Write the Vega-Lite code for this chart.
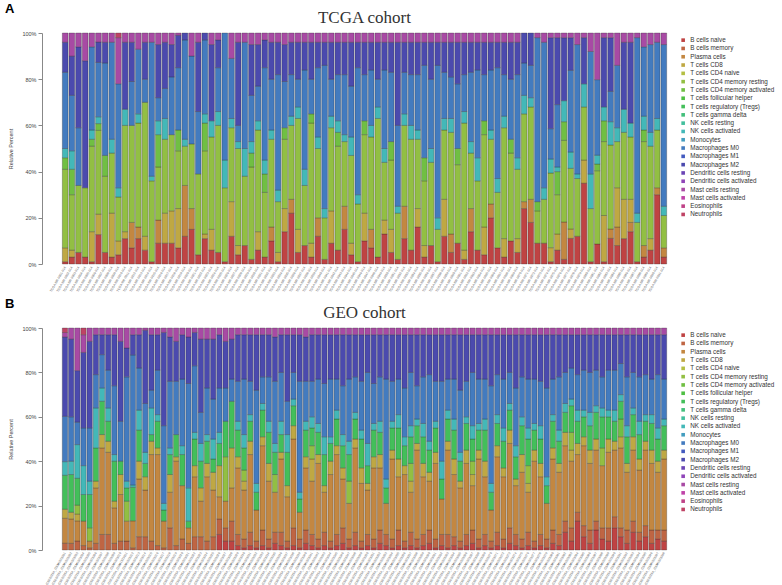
{
  "$schema": "https://vega.github.io/schema/vega-lite/v6.json",
  "padding": {"left": 4, "top": 3, "right": 0, "bottom": 0},
  "background": "white",
  "config": {
    "view": {"stroke": null},
    "concat": {"spacing": 6},
    "legend": {"title": null, "symbolType": "square", "symbolSize": 13, "symbolStrokeWidth": 0, "labelFontSize": 6.3, "labelFont": "Liberation Sans", "labelColor": "#333", "rowPadding": 1.3, "offset": 9, "labelOffset": 4, "padding": 4}
  },
  "datasets": {
    "cells": [
      {"k": "a", "name": "B cells naive", "ord": 1},
      {"k": "b", "name": "B cells memory", "ord": 2},
      {"k": "c", "name": "Plasma cells", "ord": 3},
      {"k": "d", "name": "T cells CD8", "ord": 4},
      {"k": "e", "name": "T cells CD4 naive", "ord": 5},
      {"k": "f", "name": "T cells CD4 memory resting", "ord": 6},
      {"k": "g", "name": "T cells CD4 memory activated", "ord": 7},
      {"k": "h", "name": "T cells follicular helper", "ord": 8},
      {"k": "i", "name": "T cells regulatory (Tregs)", "ord": 9},
      {"k": "j", "name": "T cells gamma delta", "ord": 10},
      {"k": "k", "name": "NK cells resting", "ord": 11},
      {"k": "l", "name": "NK cells activated", "ord": 12},
      {"k": "m", "name": "Monocytes", "ord": 13},
      {"k": "n", "name": "Macrophages M0", "ord": 14},
      {"k": "o", "name": "Macrophages M1", "ord": 15},
      {"k": "p", "name": "Macrophages M2", "ord": 16},
      {"k": "q", "name": "Dendritic cells resting", "ord": 17},
      {"k": "r", "name": "Dendritic cells activated", "ord": 18},
      {"k": "s", "name": "Mast cells resting", "ord": 19},
      {"k": "t", "name": "Mast cells activated", "ord": 20},
      {"k": "u", "name": "Eosinophils", "ord": 21},
      {"k": "v", "name": "Neutrophils", "ord": 22}
    ],
    "tcga": [
      {"id": "TCGA-BR-0001-01A", "a": 1, "d": 6, "f": 34, "g": 5, "l": 4, "n": 33, "p": 13, "s": 4},
      {"id": "TCGA-BR-0002-01A", "a": 3, "d": 3, "f": 24, "g": 11, "l": 8, "n": 24, "p": 17, "s": 10},
      {"id": "TCGA-BR-0003-01A", "a": 5, "f": 29, "n": 25, "p": 35, "s": 6},
      {"id": "TCGA-BR-0004-01A", "a": 3, "f": 30, "p": 55, "s": 12},
      {"id": "TCGA-BR-0005-01A", "a": 1, "d": 13, "f": 37, "g": 3, "l": 4, "n": 36, "s": 6},
      {"id": "TCGA-BR-0006-01A", "a": 13, "d": 9, "f": 37, "g": 3, "l": 3, "n": 24, "p": 9, "s": 4},
      {"id": "TCGA-BR-0007-01A", "a": 5, "f": 33, "g": 9, "n": 40, "p": 9, "s": 4},
      {"id": "TCGA-BR-0008-01A", "a": 3, "d": 19, "f": 26, "l": 6, "n": 42, "s": 4},
      {"id": "TCGA-BR-0009-01A", "a": 4, "d": 6, "f": 19, "l": 4, "n": 45, "s": 20, "v": 2},
      {"id": "TCGA-BR-0010-01A", "a": 11, "d": 3, "f": 46, "l": 7, "p": 29, "s": 4},
      {"id": "TCGA-BR-0011-01A", "a": 7, "c": 11, "f": 42, "n": 19, "p": 17, "s": 4},
      {"id": "TCGA-BR-0012-01A", "a": 11, "c": 5, "f": 45, "l": 4, "n": 28, "s": 7},
      {"id": "TCGA-BR-0013-01A", "a": 6, "d": 6, "f": 58, "n": 10, "p": 16, "s": 4},
      {"id": "TCGA-BR-0014-01A", "a": 1, "f": 35, "l": 2, "n": 58, "s": 4},
      {"id": "TCGA-BR-0015-01A", "a": 9, "c": 10, "f": 23, "g": 14, "l": 6, "n": 10, "p": 23, "s": 5},
      {"id": "TCGA-BR-0016-01A", "a": 9, "d": 13, "f": 32, "l": 9, "n": 13, "p": 20, "s": 4},
      {"id": "TCGA-BR-0017-01A", "a": 9, "d": 14, "f": 33, "n": 25, "p": 14, "s": 5},
      {"id": "TCGA-BR-0018-01A", "a": 7, "d": 17, "f": 25, "g": 9, "n": 27, "p": 14, "s": 1},
      {"id": "TCGA-BR-0019-01A", "a": 12, "c": 22, "f": 17, "l": 3, "n": 43, "p": 3},
      {"id": "TCGA-BR-0020-01A", "a": 15, "c": 9, "f": 28, "n": 38, "s": 10},
      {"id": "TCGA-BR-0021-01A", "a": 4, "f": 35, "n": 27, "p": 30, "s": 4},
      {"id": "TCGA-BR-0022-01A", "a": 11, "d": 2, "f": 36, "g": 12, "l": 4, "n": 32, "p": 3},
      {"id": "TCGA-BR-0023-01A", "a": 6, "d": 9, "f": 40, "l": 7, "p": 33, "s": 5},
      {"id": "TCGA-BR-0024-01A", "a": 5, "f": 55, "l": 6, "n": 19, "p": 12, "s": 3},
      {"id": "TCGA-BR-0025-01A", "a": 1, "f": 32, "l": 12, "n": 55},
      {"id": "TCGA-BR-0026-01A", "a": 12, "d": 15, "f": 32, "l": 4, "n": 26, "s": 11},
      {"id": "TCGA-BR-0027-01A", "a": 4, "d": 4, "f": 42, "l": 3, "n": 7, "p": 36, "s": 4},
      {"id": "TCGA-BR-0028-01A", "a": 8, "f": 30, "l": 12, "n": 46, "s": 4},
      {"id": "TCGA-BR-0029-01A", "a": 2, "f": 40, "g": 6, "l": 5, "n": 20, "p": 22, "s": 5},
      {"id": "TCGA-BR-0030-01A", "a": 6, "d": 8, "f": 44, "l": 4, "n": 15, "p": 18, "s": 5},
      {"id": "TCGA-BR-0031-01A", "a": 3, "f": 28, "g": 8, "l": 6, "n": 40, "p": 12, "s": 3},
      {"id": "TCGA-BR-0032-01A", "a": 10, "c": 6, "f": 38, "l": 4, "n": 22, "p": 16, "s": 4},
      {"id": "TCGA-BR-0033-01A", "a": 1, "d": 4, "f": 22, "l": 5, "n": 50, "p": 14, "s": 4},
      {"id": "TCGA-BR-0034-01A", "a": 14, "d": 10, "f": 30, "g": 5, "n": 20, "p": 16, "s": 5},
      {"id": "TCGA-BR-0035-01A", "a": 22, "c": 6, "f": 32, "l": 4, "n": 18, "p": 14, "s": 4},
      {"id": "TCGA-BR-0036-01A", "a": 5, "d": 10, "f": 48, "l": 5, "n": 12, "p": 16, "s": 4},
      {"id": "TCGA-BR-0037-01A", "a": 8, "f": 26, "l": 7, "n": 43, "p": 12, "s": 4},
      {"id": "TCGA-BR-0038-01A", "a": 3, "d": 6, "f": 52, "g": 4, "n": 15, "p": 16, "s": 4},
      {"id": "TCGA-BR-0039-01A", "a": 12, "c": 8, "f": 30, "l": 5, "n": 30, "p": 11, "s": 4},
      {"id": "TCGA-BR-0040-01A", "a": 2, "f": 18, "l": 4, "n": 62, "p": 10, "s": 4},
      {"id": "TCGA-BR-0041-01A", "a": 9, "d": 14, "f": 36, "l": 5, "n": 16, "p": 16, "s": 4},
      {"id": "TCGA-BR-0042-01A", "a": 6, "f": 45, "g": 6, "l": 5, "n": 20, "p": 14, "s": 4},
      {"id": "TCGA-BR-0043-01A", "a": 15, "c": 10, "f": 28, "l": 3, "n": 26, "p": 14, "s": 4},
      {"id": "TCGA-BR-0044-01A", "a": 4, "d": 5, "f": 38, "l": 8, "n": 22, "p": 19, "s": 4},
      {"id": "TCGA-BR-0045-01A", "a": 1, "f": 25, "l": 4, "n": 55, "p": 11, "s": 4},
      {"id": "TCGA-BR-0046-01A", "a": 10, "d": 12, "f": 34, "g": 6, "n": 20, "p": 14, "s": 4},
      {"id": "TCGA-BR-0047-01A", "a": 7, "c": 8, "f": 40, "l": 5, "n": 24, "p": 12, "s": 4},
      {"id": "TCGA-BR-0048-01A", "a": 3, "f": 60, "l": 5, "n": 12, "p": 16, "s": 4},
      {"id": "TCGA-BR-0049-01A", "a": 13, "d": 6, "f": 25, "l": 6, "n": 34, "p": 12, "s": 4},
      {"id": "TCGA-BR-0050-01A", "a": 5, "d": 10, "f": 30, "g": 8, "n": 30, "p": 13, "s": 4},
      {"id": "TCGA-BR-0051-01A", "a": 2, "f": 20, "l": 3, "n": 35, "p": 36, "s": 4},
      {"id": "TCGA-BR-0052-01A", "a": 11, "c": 14, "f": 35, "l": 5, "n": 18, "p": 13, "s": 4},
      {"id": "TCGA-BR-0053-01A", "a": 6, "f": 48, "l": 6, "n": 22, "p": 14, "s": 4},
      {"id": "TCGA-BR-0054-01A", "a": 16, "d": 8, "f": 30, "l": 4, "n": 24, "p": 14, "s": 4},
      {"id": "TCGA-BR-0055-01A", "a": 3, "d": 5, "f": 28, "g": 10, "n": 40, "p": 10, "s": 4},
      {"id": "TCGA-BR-0056-01A", "a": 8, "f": 36, "l": 6, "n": 30, "p": 16, "s": 4},
      {"id": "TCGA-BR-0057-01A", "a": 1, "f": 14, "l": 5, "n": 66, "p": 10, "s": 4},
      {"id": "TCGA-BR-0058-01A", "a": 12, "d": 16, "f": 30, "l": 5, "n": 20, "p": 13, "s": 4},
      {"id": "TCGA-BR-0059-01A", "a": 5, "c": 8, "f": 44, "l": 6, "n": 18, "p": 15, "s": 4},
      {"id": "TCGA-BR-0060-01A", "a": 9, "f": 34, "g": 7, "n": 28, "p": 18, "s": 4},
      {"id": "TCGA-BR-0061-01A", "a": 2, "d": 4, "f": 55, "l": 5, "n": 16, "p": 14, "s": 4},
      {"id": "TCGA-BR-0062-01A", "a": 14, "c": 10, "f": 24, "l": 5, "n": 30, "p": 13, "s": 4},
      {"id": "TCGA-BR-0063-01A", "a": 6, "f": 30, "l": 10, "n": 38, "p": 12, "s": 4},
      {"id": "TCGA-BR-0064-01A", "a": 4, "d": 12, "f": 40, "g": 6, "n": 20, "p": 14, "s": 4},
      {"id": "TCGA-BR-0065-01A", "a": 20, "c": 6, "f": 28, "l": 4, "n": 26, "p": 12, "s": 4},
      {"id": "TCGA-BR-0066-01A", "a": 7, "f": 24, "l": 6, "n": 48, "p": 11, "s": 4},
      {"id": "TCGA-BR-0067-01A", "a": 3, "d": 8, "f": 48, "l": 5, "n": 18, "p": 14, "s": 4},
      {"id": "TCGA-BR-0068-01A", "a": 10, "f": 38, "g": 6, "n": 26, "p": 16, "s": 4},
      {"id": "TCGA-BR-0069-01A", "a": 5, "d": 6, "f": 30, "l": 5, "n": 36, "p": 14, "s": 4},
      {"id": "TCGA-BR-0070-01A", "a": 24, "c": 3, "f": 38, "l": 8, "n": 14, "p": 13},
      {"id": "TCGA-BR-0071-01A", "a": 18, "c": 10, "f": 40, "l": 4, "n": 14, "p": 14},
      {"id": "TCGA-BR-0072-01A", "a": 9, "f": 14, "g": 4, "n": 71, "s": 2},
      {"id": "TCGA-BR-0073-01A", "a": 9, "f": 19, "l": 5, "n": 63, "s": 4},
      {"id": "TCGA-BR-0074-01A", "a": 1, "d": 6, "f": 32, "l": 6, "n": 13, "p": 39, "s": 2},
      {"id": "TCGA-BR-0075-01A", "a": 6, "d": 7, "f": 17, "g": 10, "l": 2, "n": 27, "p": 29, "s": 2},
      {"id": "TCGA-BR-0076-01A", "a": 2, "c": 16, "f": 35, "g": 8, "l": 9, "p": 27, "s": 2},
      {"id": "TCGA-BR-0077-01A", "a": 11, "d": 4, "f": 26, "l": 7, "n": 35, "p": 14, "s": 2},
      {"id": "TCGA-BR-0078-01A", "a": 12, "f": 25, "l": 2, "n": 56, "s": 5},
      {"id": "TCGA-BR-0079-01A", "a": 35, "d": 10, "f": 23, "l": 10, "p": 20, "s": 2},
      {"id": "TCGA-BR-0080-01A", "a": 1, "f": 23, "l": 15, "n": 53, "s": 8},
      {"id": "TCGA-BR-0081-01A", "a": 9, "f": 33, "g": 3, "l": 4, "n": 34, "s": 21},
      {"id": "TCGA-BR-0082-01A", "a": 1, "d": 20, "f": 32, "g": 9, "l": 6, "p": 30, "s": 2},
      {"id": "TCGA-BR-0083-01A", "a": 11, "c": 4, "f": 36, "l": 10, "n": 13, "p": 23, "s": 2},
      {"id": "TCGA-BR-0084-01A", "a": 8, "c": 8, "d": 17, "f": 20, "l": 6, "n": 27, "s": 14},
      {"id": "TCGA-BR-0085-01A", "a": 11, "d": 17, "f": 29, "l": 10, "p": 29, "s": 4},
      {"id": "TCGA-BR-0086-01A", "a": 14, "c": 4, "d": 10, "f": 27, "l": 6, "p": 35, "s": 4},
      {"id": "TCGA-BR-0087-01A", "a": 1, "f": 17, "l": 4, "n": 76, "s": 2},
      {"id": "TCGA-BR-0088-01A", "a": 3, "c": 5, "f": 45, "g": 5, "l": 6, "n": 30, "s": 6},
      {"id": "TCGA-BR-0089-01A", "a": 6, "d": 5, "f": 40, "l": 6, "n": 38, "s": 5},
      {"id": "TCGA-BR-0090-01A", "a": 30, "c": 3, "f": 25, "l": 5, "n": 33, "s": 4},
      {"id": "TCGA-BR-0091-01A", "a": 3, "c": 4, "f": 14, "l": 4, "n": 70, "s": 5}
    ],
    "geo": [
      {"id": "GSE62254_GSM1523001", "b": 3, "c": 11, "d": 4, "i": 15, "l": 6, "n": 20, "p": 35, "s": 2, "v": 2},
      {"id": "GSE62254_GSM1523002", "b": 3, "c": 11, "d": 3, "i": 17, "l": 6, "n": 20, "p": 35, "s": 5},
      {"id": "GSE62254_GSM1523003", "b": 4, "c": 9, "d": 3, "f": 4, "i": 12, "l": 15, "n": 10, "p": 23, "s": 19},
      {"id": "GSE62254_GSM1523004", "b": 2, "c": 11, "i": 12, "l": 13, "n": 17, "p": 34, "s": 8, "v": 3},
      {"id": "GSE62254_GSM1523005", "b": 1, "c": 3, "f": 6, "i": 15, "l": 6, "n": 24, "p": 39, "s": 6},
      {"id": "GSE62254_GSM1523006", "b": 3, "c": 25, "d": 3, "i": 15, "l": 18, "n": 15, "p": 18, "s": 3},
      {"id": "GSE62254_GSM1523007", "b": 7, "c": 39, "d": 6, "i": 15, "l": 6, "n": 15, "p": 9, "s": 3},
      {"id": "GSE62254_GSM1523008", "b": 7, "c": 37, "d": 5, "i": 9, "l": 6, "n": 17, "p": 16, "s": 3},
      {"id": "GSE62254_GSM1523009", "b": 3, "c": 16, "d": 3, "i": 18, "l": 3, "n": 31, "p": 23, "s": 3},
      {"id": "GSE62254_GSM1523010", "b": 4, "c": 21, "d": 9, "i": 6, "n": 18, "p": 36, "s": 6},
      {"id": "GSE62254_GSM1523011", "b": 4, "c": 9, "f": 9, "i": 6, "l": 3, "n": 47, "p": 13, "s": 9},
      {"id": "GSE62254_GSM1523012", "b": 1, "c": 12, "i": 15, "l": 1, "n": 58, "p": 9, "s": 3},
      {"id": "GSE62254_GSM1523013", "b": 6, "c": 26, "d": 8, "i": 14, "l": 9, "n": 19, "p": 15, "s": 3},
      {"id": "GSE62254_GSM1523014", "b": 6, "c": 21, "d": 6, "i": 6, "l": 5, "n": 22, "p": 33, "s": 1},
      {"id": "GSE62254_GSM1523015", "b": 4, "c": 39, "d": 6, "i": 3, "l": 12, "n": 8, "p": 25, "s": 3},
      {"id": "GSE62254_GSM1523016", "b": 2, "c": 41, "d": 3, "i": 12, "l": 3, "n": 20, "p": 16, "s": 3},
      {"id": "GSE62254_GSM1523017", "b": 1, "c": 12, "i": 5, "l": 3, "n": 35, "p": 42, "s": 2},
      {"id": "GSE62254_GSM1523018", "b": 10, "c": 16, "d": 8, "i": 9, "l": 3, "n": 30, "p": 20, "s": 4},
      {"id": "GSE62254_GSM1523019", "b": 2, "c": 38, "d": 2, "i": 10, "n": 24, "p": 18, "s": 6},
      {"id": "GSE62254_GSM1523020", "b": 5, "c": 24, "i": 14, "l": 4, "n": 30, "p": 20, "s": 3},
      {"id": "GSE62254_GSM1523021", "b": 3, "c": 7, "i": 3, "l": 15, "n": 47, "p": 21, "s": 4},
      {"id": "GSE62254_GSM1523022", "b": 6, "c": 27, "d": 5, "i": 12, "l": 3, "n": 30, "p": 15, "s": 2},
      {"id": "GSE62254_GSM1523023", "b": 6, "c": 16, "d": 6, "i": 12, "l": 8, "n": 14, "p": 33, "s": 5},
      {"id": "GSE62254_GSM1523024", "b": 4, "c": 29, "d": 6, "i": 10, "l": 3, "n": 21, "p": 22, "s": 5},
      {"id": "GSE62254_GSM1523025", "b": 6, "c": 21, "d": 8, "i": 6, "l": 9, "n": 18, "p": 27, "s": 5},
      {"id": "GSE62254_GSM1523026", "a": 7, "b": 7, "c": 10, "d": 14, "i": 10, "l": 5, "n": 20, "p": 24, "s": 3},
      {"id": "GSE62254_GSM1523027", "a": 4, "b": 6, "c": 12, "f": 20, "i": 16, "n": 15, "p": 21, "s": 6},
      {"id": "GSE62254_GSM1523028", "a": 4, "b": 9, "c": 15, "d": 18, "i": 21, "n": 10, "p": 18, "s": 5},
      {"id": "GSE62254_GSM1523029", "a": 2, "b": 5, "c": 30, "d": 5, "i": 12, "l": 4, "n": 18, "p": 21, "s": 3},
      {"id": "GSE62254_GSM1523030", "a": 1, "b": 4, "c": 22, "d": 4, "f": 5, "i": 10, "l": 6, "n": 25, "p": 20, "s": 3},
      {"id": "GSE62254_GSM1523031", "a": 2, "b": 6, "c": 35, "d": 6, "i": 9, "l": 3, "n": 15, "p": 21, "s": 3},
      {"id": "GSE62254_GSM1523032", "a": 1, "b": 3, "c": 14, "i": 8, "l": 4, "n": 42, "p": 25, "s": 3},
      {"id": "GSE62254_GSM1523033", "a": 2, "b": 7, "c": 38, "d": 4, "i": 12, "l": 3, "n": 12, "p": 19, "s": 3},
      {"id": "GSE62254_GSM1523034", "a": 1, "b": 4, "c": 26, "d": 8, "i": 14, "l": 5, "n": 20, "p": 19, "s": 3},
      {"id": "GSE62254_GSM1523035", "a": 3, "b": 5, "c": 18, "f": 8, "i": 10, "l": 4, "n": 28, "p": 20, "s": 4},
      {"id": "GSE62254_GSM1523036", "a": 2, "b": 6, "c": 33, "d": 3, "i": 8, "l": 6, "n": 22, "p": 17, "s": 3},
      {"id": "GSE62254_GSM1523037", "a": 1, "b": 3, "c": 20, "d": 5, "i": 15, "l": 8, "n": 15, "p": 30, "s": 3},
      {"id": "GSE62254_GSM1523038", "a": 2, "b": 8, "c": 40, "d": 6, "i": 9, "l": 3, "n": 12, "p": 17, "s": 3},
      {"id": "GSE62254_GSM1523039", "a": 1, "b": 4, "c": 12, "i": 6, "l": 3, "n": 50, "p": 21, "s": 3},
      {"id": "GSE62254_GSM1523040", "a": 3, "b": 6, "c": 28, "d": 5, "i": 12, "l": 4, "n": 18, "p": 20, "s": 4},
      {"id": "GSE62254_GSM1523041", "a": 2, "b": 5, "c": 24, "d": 10, "f": 6, "i": 8, "l": 5, "n": 16, "p": 21, "s": 3},
      {"id": "GSE62254_GSM1523042", "a": 1, "b": 4, "c": 34, "d": 4, "i": 10, "l": 4, "n": 20, "p": 20, "s": 3},
      {"id": "GSE62254_GSM1523043", "a": 2, "b": 6, "c": 18, "d": 3, "i": 14, "l": 8, "n": 24, "p": 22, "s": 3},
      {"id": "GSE62254_GSM1523044", "a": 1, "b": 3, "c": 30, "d": 6, "i": 8, "l": 3, "n": 26, "p": 20, "s": 3},
      {"id": "GSE62254_GSM1523045", "a": 2, "b": 5, "c": 36, "d": 4, "i": 12, "l": 4, "n": 14, "p": 20, "s": 3},
      {"id": "GSE62254_GSM1523046", "a": 3, "b": 7, "c": 22, "d": 5, "i": 10, "l": 5, "n": 22, "p": 23, "s": 3},
      {"id": "GSE62254_GSM1523047", "a": 1, "b": 4, "c": 16, "f": 10, "i": 12, "l": 6, "n": 28, "p": 20, "s": 3},
      {"id": "GSE62254_GSM1523048", "a": 2, "b": 6, "c": 38, "d": 4, "i": 9, "l": 3, "n": 16, "p": 19, "s": 3},
      {"id": "GSE62254_GSM1523049", "a": 1, "b": 3, "c": 26, "d": 7, "i": 13, "l": 4, "n": 22, "p": 21, "s": 3},
      {"id": "GSE62254_GSM1523050", "a": 2, "b": 5, "c": 20, "d": 3, "i": 8, "l": 10, "n": 32, "p": 17, "s": 3},
      {"id": "GSE62254_GSM1523051", "a": 1, "b": 4, "c": 32, "d": 5, "i": 12, "l": 3, "n": 18, "p": 22, "s": 3},
      {"id": "GSE62254_GSM1523052", "a": 3, "b": 6, "c": 28, "d": 6, "i": 10, "l": 5, "n": 20, "p": 19, "s": 3},
      {"id": "GSE62254_GSM1523053", "a": 2, "b": 5, "c": 14, "i": 7, "l": 4, "n": 45, "p": 20, "s": 3},
      {"id": "GSE62254_GSM1523054", "a": 1, "b": 4, "c": 36, "d": 4, "i": 10, "l": 3, "n": 18, "p": 21, "s": 3},
      {"id": "GSE62254_GSM1523055", "a": 2, "b": 7, "c": 24, "d": 8, "i": 14, "l": 6, "n": 16, "p": 20, "s": 3},
      {"id": "GSE62254_GSM1523056", "a": 1, "b": 3, "c": 30, "d": 4, "i": 9, "l": 4, "n": 22, "p": 24, "s": 3},
      {"id": "GSE62254_GSM1523057", "a": 2, "b": 6, "c": 18, "d": 5, "f": 8, "i": 12, "l": 5, "n": 24, "p": 17, "s": 3},
      {"id": "GSE62254_GSM1523058", "a": 1, "b": 4, "c": 40, "d": 3, "i": 8, "l": 3, "n": 15, "p": 23, "s": 3},
      {"id": "GSE62254_GSM1523059", "a": 2, "b": 5, "c": 26, "d": 6, "i": 12, "l": 6, "n": 21, "p": 19, "s": 3},
      {"id": "GSE62254_GSM1523060", "a": 3, "b": 6, "c": 22, "d": 4, "i": 10, "l": 4, "n": 30, "p": 18, "s": 3},
      {"id": "GSE62254_GSM1523061", "a": 1, "b": 4, "c": 34, "d": 5, "i": 11, "l": 3, "n": 18, "p": 21, "s": 3},
      {"id": "GSE62254_GSM1523062", "a": 2, "b": 5, "c": 16, "i": 9, "l": 8, "n": 36, "p": 21, "s": 3},
      {"id": "GSE62254_GSM1523063", "a": 1, "b": 6, "c": 38, "d": 4, "i": 10, "l": 4, "n": 14, "p": 20, "s": 3},
      {"id": "GSE62254_GSM1523064", "a": 2, "b": 4, "c": 28, "d": 7, "i": 13, "l": 5, "n": 18, "p": 20, "s": 3},
      {"id": "GSE62254_GSM1523065", "a": 1, "b": 3, "c": 24, "d": 3, "i": 9, "l": 4, "n": 28, "p": 25, "s": 3},
      {"id": "GSE62254_GSM1523066", "a": 2, "b": 5, "c": 32, "d": 6, "i": 12, "l": 3, "n": 16, "p": 21, "s": 3},
      {"id": "GSE62254_GSM1523067", "a": 3, "b": 6, "c": 20, "d": 5, "f": 6, "i": 10, "l": 6, "n": 24, "p": 17, "s": 3},
      {"id": "GSE62254_GSM1523068", "a": 1, "b": 4, "c": 36, "d": 4, "i": 9, "l": 3, "n": 20, "p": 20, "s": 3},
      {"id": "GSE62254_GSM1523069", "a": 2, "b": 5, "c": 26, "d": 7, "i": 14, "l": 5, "n": 18, "p": 20, "s": 3},
      {"id": "GSE62254_GSM1523070", "a": 1, "b": 3, "c": 14, "i": 8, "l": 4, "n": 44, "p": 23, "s": 3},
      {"id": "GSE62254_GSM1523071", "a": 2, "b": 6, "c": 34, "d": 5, "i": 10, "l": 4, "n": 18, "p": 18, "s": 3},
      {"id": "GSE62254_GSM1523072", "a": 1, "b": 4, "c": 28, "d": 4, "i": 12, "l": 6, "n": 22, "p": 20, "s": 3},
      {"id": "GSE62254_GSM1523073", "a": 3, "b": 7, "c": 38, "d": 6, "i": 9, "l": 3, "n": 14, "p": 17, "s": 3},
      {"id": "GSE62254_GSM1523074", "a": 2, "b": 5, "c": 22, "d": 3, "i": 10, "l": 5, "n": 26, "p": 24, "s": 3},
      {"id": "GSE62254_GSM1523075", "a": 1, "b": 4, "c": 30, "d": 8, "i": 13, "l": 4, "n": 18, "p": 19, "s": 3},
      {"id": "GSE62254_GSM1523076", "a": 2, "b": 6, "c": 18, "d": 4, "f": 8, "i": 12, "l": 5, "n": 22, "p": 20, "s": 3},
      {"id": "GSE62254_GSM1523077", "a": 1, "b": 3, "c": 36, "d": 5, "i": 9, "l": 3, "n": 20, "p": 20, "s": 3},
      {"id": "GSE62254_GSM1523078", "a": 2, "b": 5, "c": 26, "d": 6, "i": 11, "l": 6, "n": 20, "p": 21, "s": 3},
      {"id": "GSE62254_GSM1523079", "a": 1, "b": 4, "c": 16, "i": 8, "l": 4, "n": 40, "p": 24, "s": 3},
      {"id": "GSE62254_GSM1523080", "a": 3, "b": 6, "c": 32, "d": 5, "i": 12, "l": 3, "n": 16, "p": 20, "s": 3},
      {"id": "GSE62254_GSM1523081", "a": 2, "b": 5, "c": 28, "d": 4, "i": 10, "l": 5, "n": 24, "p": 19, "s": 3},
      {"id": "GSE62254_GSM1523082", "a": 8, "b": 5, "c": 34, "d": 6, "i": 9, "l": 4, "n": 14, "p": 17, "s": 3},
      {"id": "GSE62254_GSM1523083", "a": 4, "b": 6, "c": 30, "d": 5, "f": 8, "i": 12, "l": 3, "n": 14, "p": 15, "s": 3},
      {"id": "GSE62254_GSM1523084", "a": 13, "b": 4, "c": 26, "d": 5, "i": 10, "l": 5, "n": 16, "p": 18, "s": 3},
      {"id": "GSE62254_GSM1523085", "a": 6, "b": 5, "c": 36, "d": 4, "i": 9, "l": 3, "n": 18, "p": 16, "s": 3},
      {"id": "GSE62254_GSM1523086", "a": 3, "b": 6, "c": 30, "d": 6, "i": 11, "l": 6, "n": 18, "p": 17, "s": 3},
      {"id": "GSE62254_GSM1523087", "a": 9, "b": 4, "c": 32, "d": 5, "i": 12, "l": 3, "n": 16, "p": 16, "s": 3},
      {"id": "GSE62254_GSM1523088", "a": 5, "b": 5, "c": 28, "f": 8, "i": 14, "l": 4, "n": 14, "p": 19, "s": 3},
      {"id": "GSE62254_GSM1523089", "a": 4, "b": 6, "c": 34, "d": 6, "i": 10, "l": 3, "n": 18, "p": 16, "s": 3},
      {"id": "GSE62254_GSM1523090", "a": 10, "b": 5, "c": 30, "d": 4, "i": 9, "l": 5, "n": 18, "p": 16, "s": 3},
      {"id": "GSE62254_GSM1523091", "a": 6, "b": 4, "c": 36, "d": 5, "g": 8, "i": 8, "l": 3, "n": 14, "p": 13, "s": 3},
      {"id": "GSE62254_GSM1523092", "a": 3, "b": 6, "c": 26, "d": 4, "i": 12, "l": 5, "n": 22, "p": 19, "s": 3},
      {"id": "GSE62254_GSM1523093", "a": 8, "b": 5, "c": 32, "d": 6, "i": 10, "l": 3, "n": 16, "p": 17, "s": 3},
      {"id": "GSE62254_GSM1523094", "a": 4, "b": 4, "c": 28, "d": 5, "i": 11, "l": 6, "n": 20, "p": 19, "s": 3},
      {"id": "GSE62254_GSM1523095", "a": 6, "b": 5, "c": 34, "d": 4, "i": 9, "l": 3, "n": 18, "p": 18, "s": 3},
      {"id": "GSE62254_GSM1523096", "a": 3, "b": 6, "c": 30, "d": 6, "i": 12, "l": 4, "n": 16, "p": 20, "s": 3},
      {"id": "GSE62254_GSM1523097", "a": 5, "b": 4, "c": 26, "d": 5, "i": 10, "l": 5, "n": 24, "p": 18, "s": 3},
      {"id": "GSE62254_GSM1523098", "a": 4, "b": 5, "c": 32, "d": 4, "i": 11, "l": 3, "n": 18, "p": 20, "s": 3}
    ]
  },
  "vconcat": [
    {
      "title": {"text": "A", "anchor": "start", "dx": -4, "offset": -7, "font": "Liberation Sans", "fontSize": 13, "fontWeight": "bold", "color": "#000"},
      "vconcat": [
        {
          "title": {"text": "TCGA cohort", "font": "Liberation Serif", "fontSize": 17, "fontWeight": "normal", "color": "#333", "offset": 4},
          "width": 605,
          "height": 231,
          "data": {"name": "tcga"},
          "transform": [
            {"fold": ["a", "b", "c", "d", "e", "f", "g", "h", "i", "j", "k", "l", "m", "n", "o", "p", "q", "r", "s", "t", "u", "v"], "as": ["key", "value"]},
            {"filter": "datum.value > 0"},
            {"lookup": "key", "from": {"data": {"name": "cells"}, "key": "k", "fields": ["name", "ord"]}}
          ],
          "mark": {"type": "bar", "stroke": "#2a2a2a", "strokeWidth": 0.3},
          "encoding": {
            "x": {"field": "id", "type": "nominal", "sort": null, "scale": {"paddingInner": 0.14, "paddingOuter": 0.05},
              "axis": {"title": null, "labelAngle": -60, "labelFontSize": 3.2, "labelFont": "Liberation Sans", "labelColor": "#555", "ticks": false, "domain": false, "labelPadding": 2, "labelOverlap": false}},
            "y": {"field": "value", "type": "quantitative", "stack": "normalize",
              "axis": {"title": "Relative Percent", "format": ".0%", "values": [0, 0.2, 0.4, 0.6, 0.8, 1], "offset": 20, "grid": false, "labelFontSize": 5.5, "labelFont": "Liberation Sans", "labelColor": "#444", "titleFontSize": 5.5, "titleFont": "Liberation Sans", "titleFontWeight": "normal", "titleColor": "#444", "titlePadding": 8, "tickSize": 4, "domainColor": "#888", "tickColor": "#888"}},
            "color": {"field": "name", "type": "nominal",
              "scale": {
                "domain": ["B cells naive", "B cells memory", "Plasma cells", "T cells CD8", "T cells CD4 naive", "T cells CD4 memory resting", "T cells CD4 memory activated", "T cells follicular helper", "T cells regulatory (Tregs)", "T cells gamma delta", "NK cells resting", "NK cells activated", "Monocytes", "Macrophages M0", "Macrophages M1", "Macrophages M2", "Dendritic cells resting", "Dendritic cells activated", "Mast cells resting", "Mast cells activated", "Eosinophils", "Neutrophils"],
                "range": ["#BF4343", "#BF6543", "#C38741", "#BFA843", "#B4BF43", "#92BF43", "#70BF43", "#4EBF43", "#43BF5A", "#43BF7B", "#43BF9D", "#43B8B8", "#439DBF", "#437BBF", "#435ABF", "#4B4AAE", "#6B45B5", "#8F45B8", "#A84AA4", "#BF43A8", "#BF4387", "#BF4365"]
              },
              "legend": {"orient": "right"}},
            "order": {"field": "ord", "type": "quantitative"}
          }
        }
      ]
    },
    {
      "title": {"text": "B", "anchor": "start", "dx": -4, "offset": -7, "font": "Liberation Sans", "fontSize": 13, "fontWeight": "bold", "color": "#000"},
      "vconcat": [
        {
          "title": {"text": "GEO cohort", "font": "Liberation Serif", "fontSize": 17, "fontWeight": "normal", "color": "#333", "offset": 4},
          "width": 605,
          "height": 222,
          "data": {"name": "geo"},
          "transform": [
            {"fold": ["a", "b", "c", "d", "e", "f", "g", "h", "i", "j", "k", "l", "m", "n", "o", "p", "q", "r", "s", "t", "u", "v"], "as": ["key", "value"]},
            {"filter": "datum.value > 0"},
            {"lookup": "key", "from": {"data": {"name": "cells"}, "key": "k", "fields": ["name", "ord"]}}
          ],
          "mark": {"type": "bar", "stroke": "#2a2a2a", "strokeWidth": 0.3},
          "encoding": {
            "x": {"field": "id", "type": "nominal", "sort": null, "scale": {"paddingInner": 0.14, "paddingOuter": 0.05},
              "axis": {"title": null, "labelAngle": -60, "labelFontSize": 3.2, "labelFont": "Liberation Sans", "labelColor": "#555", "ticks": false, "domain": false, "labelPadding": 2, "labelOverlap": false}},
            "y": {"field": "value", "type": "quantitative", "stack": "normalize",
              "axis": {"title": "Relative Percent", "format": ".0%", "values": [0, 0.2, 0.4, 0.6, 0.8, 1], "offset": 20, "grid": false, "labelFontSize": 5.5, "labelFont": "Liberation Sans", "labelColor": "#444", "titleFontSize": 5.5, "titleFont": "Liberation Sans", "titleFontWeight": "normal", "titleColor": "#444", "titlePadding": 8, "tickSize": 4, "domainColor": "#888", "tickColor": "#888"}},
            "color": {"field": "name", "type": "nominal",
              "scale": {
                "domain": ["B cells naive", "B cells memory", "Plasma cells", "T cells CD8", "T cells CD4 naive", "T cells CD4 memory resting", "T cells CD4 memory activated", "T cells follicular helper", "T cells regulatory (Tregs)", "T cells gamma delta", "NK cells resting", "NK cells activated", "Monocytes", "Macrophages M0", "Macrophages M1", "Macrophages M2", "Dendritic cells resting", "Dendritic cells activated", "Mast cells resting", "Mast cells activated", "Eosinophils", "Neutrophils"],
                "range": ["#BF4343", "#BF6543", "#C38741", "#BFA843", "#B4BF43", "#92BF43", "#70BF43", "#4EBF43", "#43BF5A", "#43BF7B", "#43BF9D", "#43B8B8", "#439DBF", "#437BBF", "#435ABF", "#4B4AAE", "#6B45B5", "#8F45B8", "#A84AA4", "#BF43A8", "#BF4387", "#BF4365"]
              },
              "legend": {"orient": "right"}},
            "order": {"field": "ord", "type": "quantitative"}
          }
        }
      ]
    }
  ],
  "resolve": {"legend": {"color": "independent"}}
}
